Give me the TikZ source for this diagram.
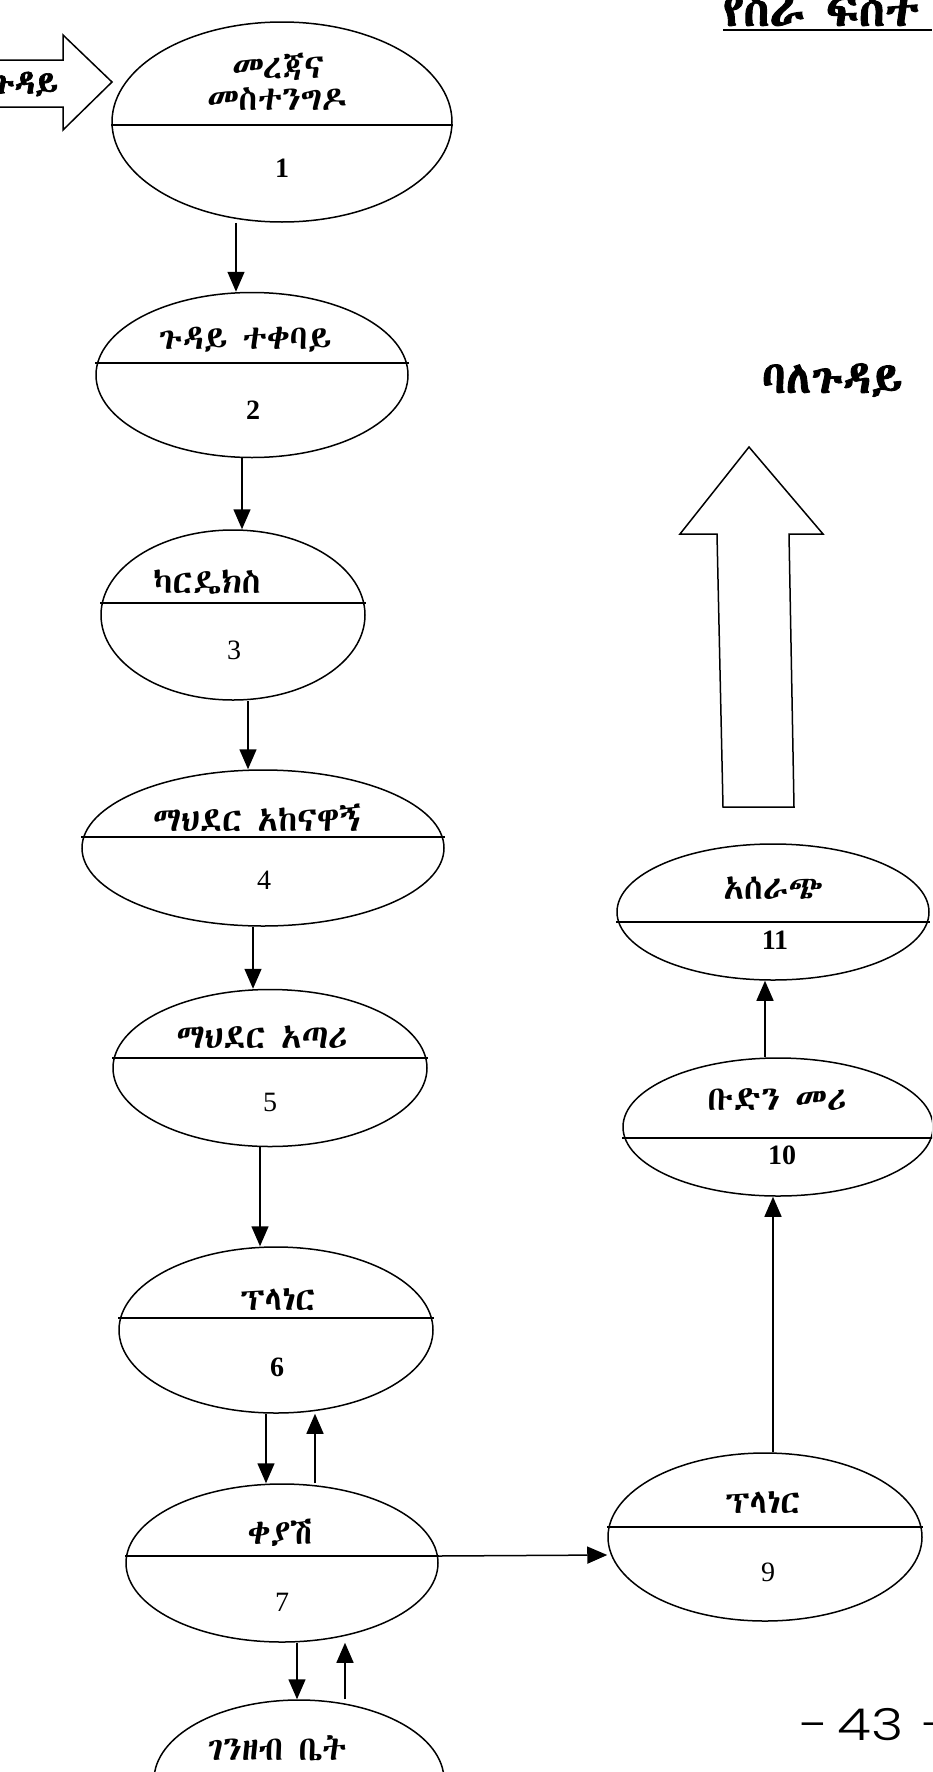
\documentclass[tikz,border=0pt]{standalone}
\usepackage{fontspec}
\setmainfont{Liberation Serif}
\IfFontExistsTF{Abyssinica SIL}{\newfontfamily\ethfont[AutoFakeBold=2]{Abyssinica SIL}}{%
 \IfFontExistsTF{FreeSerif}{\newfontfamily\ethfont[AutoFakeBold=2]{FreeSerif}}{%
 \IfFontExistsTF{Noto Sans Ethiopic}{\newfontfamily\ethfont[AutoFakeBold=2]{Noto Sans Ethiopic}}{%
 \newfontfamily\ethfont[AutoFakeBold=2]{DejaVu Sans}}}}
\IfFontExistsTF{Poppins Light}{\newfontfamily\handfont{Poppins Light}}{\newfontfamily\handfont{Poppins}}
\usetikzlibrary{arrows.meta,shapes.geometric}

\tikzset{
  proc/.style={draw, ellipse, line width=1.5pt, inner sep=0pt},
  divline/.style={line width=1.5pt},
  lbl/.style={font=\ethfont\fontsize{34pt}{38pt}\selectfont, inner sep=0pt},
  num/.style={font=\fontsize{28pt}{30pt}\selectfont, inner sep=0pt},
  bnum/.style={font=\bfseries\fontsize{28pt}{30pt}\selectfont, inner sep=0pt},
  flow/.style={line width=1.5pt, -{Triangle[width=17pt,length=20pt]}},
  blockarrow/.style={line width=1.5pt, line join=miter},
}

\begin{document}
\begin{tikzpicture}[x=1pt,y=-1pt]
\useasboundingbox (0,0) rectangle (932,1772);
\clip (0,0) rectangle (932,1772);

% title and page number
\node [font=\ethfont\bfseries\fontsize{47pt}{50pt}\selectfont, inner sep=0pt, anchor=base west] (title) at (723,26) {የስራ ፍሰት};
\draw [line width=1.2pt] (723,30) -- (932,30);
\node [font=\handfont\fontsize{44pt}{46pt}\selectfont, inner sep=0pt, anchor=base west, xscale=1.25] (page) at (800,1740) {-\,43\,\,-};

% incoming arrow
\draw [blockarrow] (-5,60) -- (63,60) -- (63,35) -- (112,82) -- (63,130) -- (63,107) -- (-5,107);
\node [font=\ethfont\bfseries\fontsize{33pt}{36pt}\selectfont, inner sep=0pt, anchor=east] (client) at (58,84) {ጉዳይ};

% outgoing arrow
\draw [blockarrow] (749,447) -- (823,534) -- (789,534) -- (794,807) -- (723,807) -- (717,534) -- (680,534) -- cycle;
\node [font=\ethfont\bfseries\fontsize{45pt}{48pt}\selectfont, inner sep=0pt] (clientout) at (832,380) {ባለጉዳይ};

% left column
\node [proc, minimum width=340pt, minimum height=200pt] (e1) at (282,122) {};
\draw [divline] ([yshift=-3pt]e1.west) -- ([yshift=-3pt]e1.east);
\node [lbl] (t1a) at (278,67) {መረጃና};
\node [lbl] (t1b) at (277,99) {መስተንግዶ};
\node [bnum] (n1) at (282,168) {1};

\node [proc, minimum width=312pt, minimum height=165pt] (e2) at (252,375) {};
\draw [divline] ([yshift=12pt]e2.west) -- ([yshift=12pt]e2.east);
\node [lbl] (t2) at (245,340) {ጉዳይ ተቀባይ};
\node [bnum] (n2) at (253,410) {2};

\node [proc, minimum width=264pt, minimum height=170pt] (e3) at (233,615) {};
\draw [divline] ([yshift=12pt]e3.west) -- ([yshift=12pt]e3.east);
\node [lbl] (t3) at (207,582) {ካርዴክስ};
\node [num] (n3) at (234,650) {3};

\node [proc, minimum width=362pt, minimum height=156pt] (e4) at (263,848) {};
\draw [divline] ([yshift=11pt]e4.west) -- ([yshift=11pt]e4.east);
\node [lbl] (t4) at (257,818) {ማህደር አከናዋኝ};
\node [num] (n4) at (264,880) {4};

\node [proc, minimum width=314pt, minimum height=157pt] (e5) at (270,1068) {};
\draw [divline] ([yshift=10pt]e5.west) -- ([yshift=10pt]e5.east);
\node [lbl] (t5) at (262,1037) {ማህደር አጣሪ};
\node [num] (n5) at (270,1102) {5};

\node [proc, minimum width=314pt, minimum height=166pt] (e6) at (276,1330) {};
\draw [divline] ([yshift=12pt]e6.west) -- ([yshift=12pt]e6.east);
\node [lbl] (t6) at (278,1300) {ፕላነር};
\node [bnum] (n6) at (277,1367) {6};

\node [proc, minimum width=312pt, minimum height=158pt] (e7) at (282,1563) {};
\draw [divline] ([yshift=7pt]e7.west) -- ([yshift=7pt]e7.east);
\node [lbl] (t7) at (280,1533) {ቀያሽ};
\node [num] (n7) at (282,1602) {7};

\node [proc, minimum width=290pt, minimum height=160pt] (e8) at (299,1780) {};
\node [lbl] (t8) at (277,1748) {ገንዘብ ቤት};

% right column
\node [proc, minimum width=314pt, minimum height=168pt] (e9) at (765,1537) {};
\draw [divline] ([yshift=10pt]e9.west) -- ([yshift=10pt]e9.east);
\node [lbl] (t9) at (763,1503) {ፕላነር};
\node [num] (n9) at (768,1572) {9};

\node [proc, minimum width=310pt, minimum height=138pt] (e10) at (778,1127) {};
\draw [divline] ([yshift=-11pt]e10.west) -- ([yshift=-11pt]e10.east);
\node [lbl] (t10) at (777,1100) {ቡድን መሪ};
\node [bnum] (n10) at (782,1155) {10};

\node [proc, minimum width=312pt, minimum height=136pt] (e11) at (773,912) {};
\draw [divline] ([yshift=-10pt]e11.west) -- ([yshift=-10pt]e11.east);
\node [lbl] (t11) at (773,888) {አሰራጭ};
\node [bnum] (n11) at (775,940) {11};

% connectors
\draw [flow] ([xshift=-46pt]e1.south) -- ([xshift=-46pt]e1.south |- e2.north);
\draw [flow] ([xshift=-10pt]e2.south) -- ([xshift=-10pt]e2.south |- e3.north);
\draw [flow] ([xshift=15pt]e3.south) -- ([xshift=15pt]e3.south |- e4.north);
\draw [flow] ([xshift=-10pt]e4.south) -- ([xshift=-10pt]e4.south |- e5.north);
\draw [flow] ([xshift=-10pt]e5.south) -- ([xshift=-10pt]e5.south |- e6.north);
\draw [flow] ([xshift=-10pt]e6.south) -- ([xshift=-10pt]e6.south |- e7.north);
\draw [flow] ([xshift=33pt]e7.north) -- ([xshift=33pt]e7.north |- e6.south);
\draw [flow] ([xshift=15pt]e7.south) -- ([xshift=15pt]e7.south |- e8.north);
\draw [flow] ([xshift=63pt]e8.north -| e7.center) -- ([xshift=63pt]e7.south);
\draw [flow] ([yshift=7pt]e7.east) -- ([yshift=-18pt]e9.west);
\draw [flow] ([xshift=8pt]e9.north) -- ([xshift=8pt]e9.north |- e10.south);
\draw [flow] ([xshift=-13pt]e10.north) -- ([xshift=-13pt]e10.north |- e11.south);
\end{tikzpicture}
\end{document}
